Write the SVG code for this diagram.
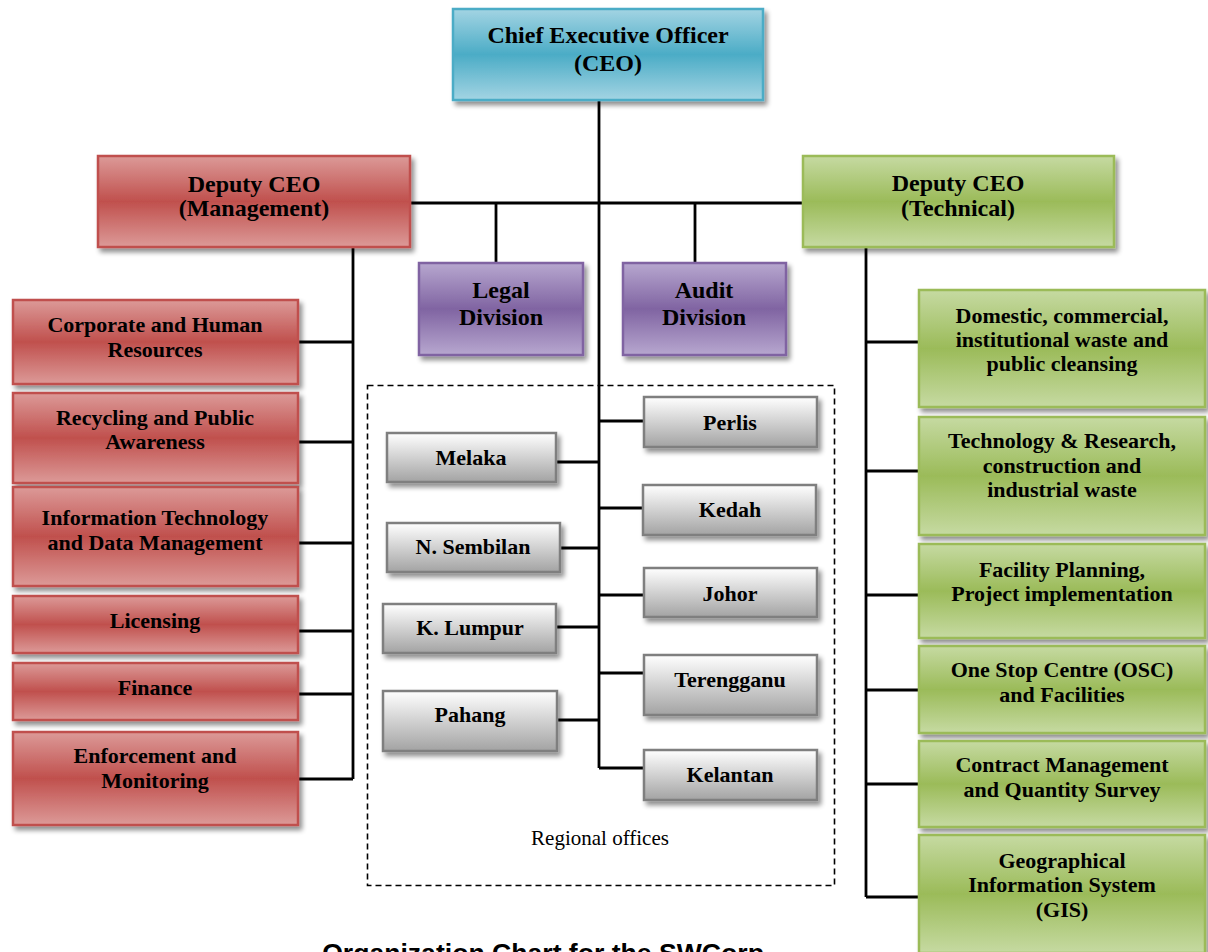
<svg xmlns="http://www.w3.org/2000/svg" width="1208" height="952" viewBox="0 0 1208 952">
  <defs>
    <linearGradient id="gBlue" x1="0" y1="0" x2="0" y2="1">
      <stop offset="0" stop-color="#A3D4E3"/>
      <stop offset="0.5" stop-color="#4BACC6"/>
      <stop offset="1" stop-color="#A3D4E3"/>
    </linearGradient>
    <linearGradient id="gRed" x1="0" y1="0" x2="0" y2="1">
      <stop offset="0" stop-color="#DC9A98"/>
      <stop offset="0.5" stop-color="#C0504D"/>
      <stop offset="1" stop-color="#DC9A98"/>
    </linearGradient>
    <linearGradient id="gGreen" x1="0" y1="0" x2="0" y2="1">
      <stop offset="0" stop-color="#C6DAA2"/>
      <stop offset="0.5" stop-color="#9BBB59"/>
      <stop offset="1" stop-color="#C6DAA2"/>
    </linearGradient>
    <linearGradient id="gPurple" x1="0" y1="0" x2="0" y2="1">
      <stop offset="0" stop-color="#B7A7CF"/>
      <stop offset="0.5" stop-color="#8064A2"/>
      <stop offset="1" stop-color="#B7A7CF"/>
    </linearGradient>
    <linearGradient id="gGray" x1="0" y1="0" x2="0" y2="1">
      <stop offset="0" stop-color="#FFFFFF"/>
      <stop offset="1" stop-color="#A3A3A3"/>
    </linearGradient>
    <filter id="shadow" x="-10%" y="-20%" width="125%" height="150%">
      <feGaussianBlur in="SourceAlpha" stdDeviation="2.5"/>
      <feOffset dx="3" dy="4" result="off"/>
      <feComponentTransfer><feFuncA type="linear" slope="0.45"/></feComponentTransfer>
      <feMerge><feMergeNode/><feMergeNode in="SourceGraphic"/></feMerge>
    </filter>
  </defs>
  <style>
    .box { filter: url(#shadow); stroke-width: 2.5; }
    .blue { fill: url(#gBlue); stroke: #4BACC6; }
    .red { fill: url(#gRed); stroke: #C0504D; }
    .green { fill: url(#gGreen); stroke: #9BBB59; }
    .purple { fill: url(#gPurple); stroke: #8064A2; }
    .gray { fill: url(#gGray); stroke: #7F7F7F; }
    text { font-family: "Liberation Serif", "DejaVu Serif", serif; fill: #000; text-anchor: middle; }
    .b { font-weight: bold; font-size: 22px; }
    .big { font-weight: bold; font-size: 24px; }
    .note { font-size: 21px; }
    .title { font-family: "Liberation Sans", Arial, sans-serif; font-weight: bold; font-size: 26.6px; }
    .wire { stroke: #000; stroke-width: 2.8; fill: none; }
  </style>

  <!-- connectors -->
  <g id="connectors" class="wire">
    <path d="M599 100 V768"/>
    <path d="M410 203 H803"/>
    <path d="M496 203 V263"/>
    <path d="M695 203 V263"/>
    <!-- management branch -->
    <path d="M353 247 V779"/>
    <path d="M298 342 H353 M298 442 H353 M298 543 H353 M298 631 H353 M298 694 H353 M298 779 H353"/>
    <!-- technical branch -->
    <path d="M866 247 V897"/>
    <path d="M866 342 H919 M866 471 H919 M866 595 H919 M866 690 H919 M866 784 H919 M866 897 H919"/>
    <!-- regional offices -->
    <path d="M599 421 H644 M599 508 H643 M599 595 H644 M599 673 H644 M599 768 H644"/>
    <path d="M556 462 H599 M560 548 H599 M556 627 H599 M557 720 H599"/>
  </g>

  <!-- regional offices frame -->
  <g id="regional-frame">
    <rect x="367.5" y="385.5" width="467" height="500" fill="none" stroke="#000" stroke-width="1.6" stroke-dasharray="6 4"/>
    <text class="note" x="600" y="845">Regional offices</text>
  </g>

  <g id="ceo">
    <rect class="box blue" x="453" y="9" width="310" height="91"/>
    <text class="big" x="608" y="43">Chief Executive Officer</text>
    <text class="big" x="608" y="71">(CEO)</text>
  </g>

  <g id="deputy-management">
    <rect class="box red" x="98" y="156" width="312" height="91"/>
    <text class="big" x="254" y="192">Deputy CEO</text>
    <text class="big" x="254" y="216">(Management)</text>
  </g>

  <g id="deputy-technical">
    <rect class="box green" x="803" y="156" width="311" height="91"/>
    <text class="big" x="958" y="191">Deputy CEO</text>
    <text class="big" x="958" y="216">(Technical)</text>
  </g>

  <g id="legal">
    <rect class="box purple" x="419" y="263" width="164" height="92"/>
    <text class="big" x="501" y="298">Legal</text>
    <text class="big" x="501" y="325">Division</text>
  </g>

  <g id="audit">
    <rect class="box purple" x="623" y="263" width="163" height="92"/>
    <text class="big" x="704" y="298">Audit</text>
    <text class="big" x="704" y="325">Division</text>
  </g>

  <!-- management divisions -->
  <g id="corporate-hr">
    <rect class="box red" x="13" y="300" width="285" height="84"/>
    <text class="b" x="155" y="332">Corporate and Human</text>
    <text class="b" x="155" y="357">Resources</text>
  </g>
  <g id="recycling">
    <rect class="box red" x="13" y="393" width="285" height="90"/>
    <text class="b" x="155" y="425">Recycling and Public</text>
    <text class="b" x="155" y="449">Awareness</text>
  </g>
  <g id="it-data">
    <rect class="box red" x="13" y="487" width="285" height="99"/>
    <text class="b" x="155" y="525">Information Technology</text>
    <text class="b" x="155" y="550">and Data Management</text>
  </g>
  <g id="licensing">
    <rect class="box red" x="13" y="596" width="285" height="57"/>
    <text class="b" x="155" y="628">Licensing</text>
  </g>
  <g id="finance">
    <rect class="box red" x="13" y="663" width="285" height="57"/>
    <text class="b" x="155" y="695">Finance</text>
  </g>
  <g id="enforcement">
    <rect class="box red" x="13" y="732" width="285" height="93"/>
    <text class="b" x="155" y="763">Enforcement and</text>
    <text class="b" x="155" y="788">Monitoring</text>
  </g>

  <!-- regional offices -->
  <g id="perlis">
    <rect class="box gray" x="644" y="397" width="173" height="50"/>
    <text class="b" x="730" y="430">Perlis</text>
  </g>
  <g id="melaka">
    <rect class="box gray" x="387" y="433" width="169" height="49"/>
    <text class="b" x="471" y="465">Melaka</text>
  </g>
  <g id="kedah">
    <rect class="box gray" x="643" y="485" width="173" height="50"/>
    <text class="b" x="730" y="517">Kedah</text>
  </g>
  <g id="n-sembilan">
    <rect class="box gray" x="387" y="523" width="173" height="49"/>
    <text class="b" x="473" y="554">N. Sembilan</text>
  </g>
  <g id="johor">
    <rect class="box gray" x="644" y="568" width="173" height="49"/>
    <text class="b" x="730" y="601">Johor</text>
  </g>
  <g id="k-lumpur">
    <rect class="box gray" x="383" y="604" width="173" height="49"/>
    <text class="b" x="470" y="635">K. Lumpur</text>
  </g>
  <g id="terengganu">
    <rect class="box gray" x="644" y="655" width="173" height="60"/>
    <text class="b" x="730" y="687">Terengganu</text>
  </g>
  <g id="pahang">
    <rect class="box gray" x="383" y="691" width="174" height="60"/>
    <text class="b" x="470" y="722">Pahang</text>
  </g>
  <g id="kelantan">
    <rect class="box gray" x="644" y="750" width="173" height="50"/>
    <text class="b" x="730" y="782">Kelantan</text>
  </g>

  <!-- technical divisions -->
  <g id="domestic-waste">
    <rect class="box green" x="919" y="290" width="286" height="117"/>
    <text class="b" x="1062" y="323">Domestic, commercial,</text>
    <text class="b" x="1062" y="347">institutional waste and</text>
    <text class="b" x="1062" y="371">public cleansing</text>
  </g>
  <g id="technology-research">
    <rect class="box green" x="919" y="417" width="286" height="118"/>
    <text class="b" x="1062" y="448">Technology &amp; Research,</text>
    <text class="b" x="1062" y="473">construction and</text>
    <text class="b" x="1062" y="497">industrial waste</text>
  </g>
  <g id="facility-planning">
    <rect class="box green" x="919" y="544" width="286" height="94"/>
    <text class="b" x="1062" y="577">Facility Planning,</text>
    <text class="b" x="1062" y="601">Project implementation</text>
  </g>
  <g id="one-stop-centre">
    <rect class="box green" x="919" y="646" width="286" height="87"/>
    <text class="b" x="1062" y="677">One Stop Centre (OSC)</text>
    <text class="b" x="1062" y="702">and Facilities</text>
  </g>
  <g id="contract-management">
    <rect class="box green" x="919" y="741" width="286" height="86"/>
    <text class="b" x="1062" y="772">Contract Management</text>
    <text class="b" x="1062" y="797">and Quantity Survey</text>
  </g>
  <g id="gis">
    <rect class="box green" x="919" y="835" width="286" height="118"/>
    <text class="b" x="1062" y="868">Geographical</text>
    <text class="b" x="1062" y="892">Information System</text>
    <text class="b" x="1062" y="917">(GIS)</text>
  </g>

  <text class="title" x="543" y="962">Organization Chart for the SWCorp</text>
</svg>
